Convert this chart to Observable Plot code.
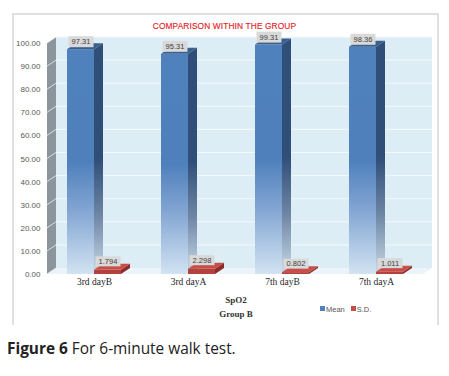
<!DOCTYPE html>
<html><head><meta charset="utf-8">
<script src="https://cdn.jsdelivr.net/npm/d3@7"></script>
<script src="https://cdn.jsdelivr.net/npm/@observablehq/plot@0.6"></script>
<style>
body{margin:0;background:#fff;font-family:"Liberation Sans",Arial,sans-serif}
#wrap{position:relative;width:449px;height:376px;overflow:hidden;background:#fff}
#frame{position:absolute;left:12px;top:13px;width:427px;height:312px;box-sizing:border-box;border:2px solid #e0e0e0;border-bottom:none}
#title{position:absolute;left:0;top:21px;width:449px;text-align:center;font-size:8.3px;line-height:10px;color:#e31e26;letter-spacing:0.15px;-webkit-text-stroke:0.15px #e31e26}
#chart{position:absolute;left:0;top:0}
.serif{position:absolute;left:186px;width:100px;text-align:center;font-family:"Liberation Serif","Times New Roman",serif;font-size:9px;line-height:12px;color:#333;font-weight:bold}
#legend{position:absolute;left:320px;top:305px;font-size:7.5px;line-height:10px;color:#595959;display:flex;gap:6px}
#legend span.sw{display:inline-block;width:5px;height:5px;margin-right:1px;vertical-align:1px}
#caption{position:absolute;left:7px;top:339px;font-family:"Open Sans",sans-serif;font-size:15.4px;line-height:20px;color:#222}
</style></head><body>
<div id="wrap">
<div id="frame"></div>
<div id="title">COMPARISON WITHIN THE GROUP</div>
<div id="chart"></div>
<div class="serif" style="top:294px">SpO2</div>
<div class="serif" style="top:308px">Group B</div>
<div id="legend"></div>
<div id="caption"><b>Figure 6</b> For 6-minute walk test.</div>
</div>
<script>
const categories = ["3rd dayB", "3rd dayA", "7th dayB", "7th dayA"];
const meanValues = [97.31, 95.31, 99.31, 98.36];
const sdValues = [1.794, 2.298, 0.802, 1.011];
const seriesNames = ["Mean", "S.D."];
const seriesColors = ["#4f81bd", "#c0504d"];
const yTicks = [0, 10, 20, 30, 40, 50, 60, 70, 80, 90, 100];

const rows = categories.map((c, i) => ({cat: c, mean: meanValues[i], sd: sdValues[i]}));

const NS = "http://www.w3.org/2000/svg";
function el(tag, attrs) {
  const e = document.createElementNS(NS, tag);
  for (const k in attrs) e.setAttribute(k, attrs[k]);
  return e;
}
const DX = 9, DY = -6;

function extrude(sideFill, topFill) {
  return (index, scales, values, dims, context, next) => {
    const g = next(index, scales, values, dims, context);
    for (const r of Array.from(g.querySelectorAll("rect"))) {
      const x = +(r.getAttribute("x") || 0), y = +(r.getAttribute("y") || 0);
      const w = +r.getAttribute("width"), h = +r.getAttribute("height");
      const side = el("polygon", {points: `${x+w},${y} ${x+w+DX},${y+DY} ${x+w+DX},${y+h+DY} ${x+w},${y+h}`, fill: sideFill});
      const top = el("polygon", {points: `${x},${y} ${x+DX},${y+DY} ${x+w+DX},${y+DY} ${x+w},${y}`, fill: topFill});
      r.after(side, top);
    }
    return g;
  };
}
function boxed(w, h) {
  return (index, scales, values, dims, context, next) => {
    const g = next(index, scales, values, dims, context);
    for (const t of Array.from(g.querySelectorAll("text"))) {
      const r = el("rect", {x: -w / 2, y: -h / 2, width: w, height: h, fill: "#d9d9d9"});
      const tr = t.getAttribute("transform");
      if (tr) r.setAttribute("transform", tr);
      t.before(r);
    }
    return g;
  };
}
function walls(index, scales, values, dims) {
  const g = el("g", {});
  const x0 = dims.marginLeft, x1 = dims.width - dims.marginRight;
  const y0 = scales.y(0), yT = scales.y(100);
  g.append(el("polygon", {points: `${x0+DX},${yT+DY} ${x1+DX},${yT+DY} ${x1+DX},${y0+DY} ${x0+DX},${y0+DY}`, fill: "#dcedf5"}));
  g.append(el("polygon", {points: `${x0},${y0} ${x0+DX},${y0+DY} ${x1+DX},${y0+DY} ${x1},${y0}`, fill: "#ebf4f9"}));
  g.append(el("polygon", {points: `${x0},${yT} ${x0+DX},${yT+DY} ${x0+DX},${y0+DY} ${x0},${y0}`, fill: "#8c959c"}));
  for (const t of yTicks) {
    const y = scales.y(t);
    if (t > 0) g.append(el("line", {x1: x0 + DX, x2: x1 + DX, y1: y + DY, y2: y + DY, stroke: "#f3f9fc", "stroke-width": 1}));
    g.append(el("line", {x1: x0, x2: x0 + DX, y1: y, y2: y + DY, stroke: "#f0f0f0", "stroke-width": 0.8}));
  }
  return g;
}

const chart = Plot.plot({
  width: 449, height: 330,
  marginLeft: 47, marginRight: 26, marginTop: 43, marginBottom: 56,
  style: {background: "transparent", color: "#595959", fontFamily: "Liberation Sans, Arial, sans-serif", overflow: "visible"},
  x: {type: "band", domain: categories, paddingInner: 0.426, paddingOuter: 0.2125, label: null},
  y: {domain: [0, 100], label: null},
  marks: [
    walls,
    Plot.barY(rows, {x: "cat", y: "mean", fill: "url(#gMeanFront)", insetRight: 27, render: extrude("url(#gMeanSide)", "#3a5f8d")}),
    Plot.barY(rows, {x: "cat", y: "sd", fill: "#b3413d", insetLeft: 27, render: extrude("#8a2e2b", "#c84e4a")}),
    Plot.text(rows, {x: "cat", y: "mean", text: d => d.mean.toFixed(2), dx: -13.5, dy: -8, fontSize: 7.5, fill: "#404040", render: boxed(25, 11)}),
    Plot.text(rows, {x: "cat", y: "sd", text: d => d.sd.toFixed(3), dx: 13.5, dy: -9, fontSize: 7.5, fill: "#404040", render: boxed(25, 10)}),
    Plot.axisY({ticks: yTicks, tickFormat: d => d.toFixed(2), tickSize: 0, tickPadding: 7, fontSize: 8}),
    Plot.axisX({tickSize: 0, tickPadding: 4, fontSize: 9.5, fontFamily: "Liberation Serif, Times New Roman, serif", color: "#262626"})
  ]
});

const defs = el("defs", {});
const gf = el("linearGradient", {id: "gMeanFront", x1: 0, y1: 0, x2: 0, y2: 1});
[["0", "#4f81bd"], ["0.5", "#4f80bc"], ["0.72", "#83a6d3"], ["1", "#d2e3f2"]].forEach(([o, c]) => gf.append(el("stop", {offset: o, "stop-color": c})));
const gs = el("linearGradient", {id: "gMeanSide", x1: 0, y1: 0, x2: 0, y2: 1});
[["0", "#2f4e78"], ["0.5", "#2f4e78"], ["0.75", "#6f87a6"], ["1", "#c9d9e6"]].forEach(([o, c]) => gs.append(el("stop", {offset: o, "stop-color": c})));
defs.append(gf, gs);
chart.prepend(defs);
document.getElementById("chart").append(chart);

const legend = document.getElementById("legend");
seriesNames.forEach((n, i) => {
  const s = document.createElement("span");
  s.innerHTML = `<span class="sw" style="background:${seriesColors[i]}"></span>${n}`;
  legend.append(s);
});
</script>
</body></html>
